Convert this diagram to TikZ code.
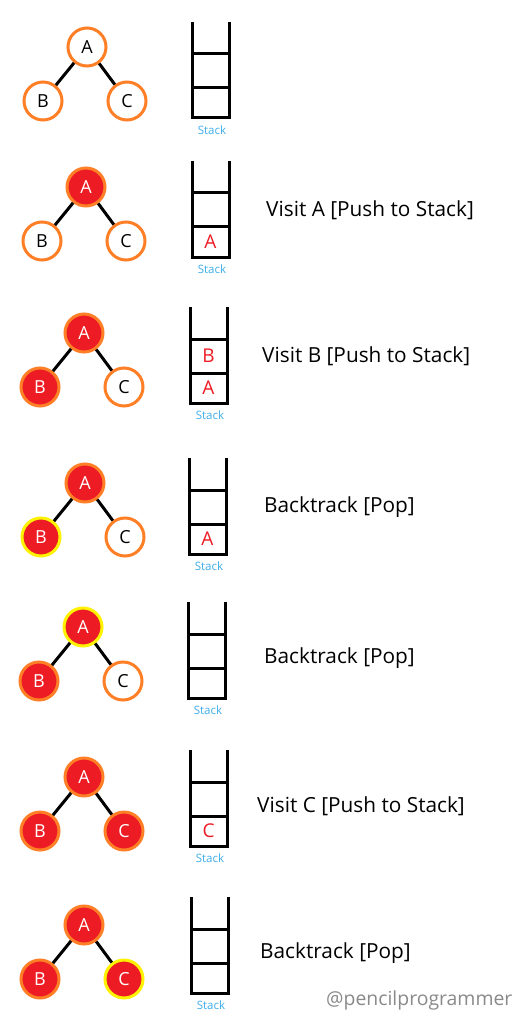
\documentclass[tikz,border=0pt]{standalone}
\usepackage{fontspec}
\setmainfont{Open Sans}
\definecolor{orng}{HTML}{FF7F27}
\definecolor{rd}{HTML}{ED1C24}
\definecolor{ylw}{HTML}{FFF200}
\definecolor{lblue}{HTML}{3FAEEA}
\definecolor{wgray}{HTML}{8A8A8A}
\tikzset{
  nd/.style={circle, minimum size=38pt, inner sep=0pt, line width=3pt, font=\fontsize{18}{18}\selectfont},
  unv/.style={nd, draw=orng, fill=white, text=black},
  vis/.style={nd, draw=orng, fill=rd, text=white},
  cur/.style={nd, draw=ylw, fill=rd, text=white},
  edge/.style={line width=3pt, black},
  stk/.style={line width=3pt, black, line join=miter},
  slot/.style={text=rd, inner sep=0pt, font=\fontsize{19}{19}\selectfont},
  stacklbl/.style={text=lblue, inner sep=0pt, font=\fontsize{11.5}{11.5}\selectfont},
  caption/.style={anchor=west, inner sep=0pt, text=black, font=\fontsize{20.8}{20.8}\selectfont},
  wmark/.style={anchor=west, inner sep=0pt, text=wgray, font=\fontsize{19.4}{19.4}\selectfont}
}
\newcommand\dfstree[6]{%
  \node[#4] (#1A) at (#2,#3) {A};
  \node[#5] (#1B) at (#2-44,#3+54) {B};
  \node[#6] (#1C) at (#2+40,#3+54) {C};
  \draw[edge] (#1A) -- (#1B);
  \draw[edge] (#1A) -- (#1C);
}
\newcommand\dfsstack[5]{%
  \coordinate (#1tl) at (#2,#3);
  \draw[stk] (#2,#3) -- (#2,#3+96) -- (#2+37,#3+96) -- (#2+37,#3);
  \draw[stk] (#2,#3+32) -- (#2+37,#3+32);
  \draw[stk] (#2,#3+66) -- (#2+37,#3+66);
  \node[slot] (#1s1) at (#2+18.5,#3+81) {#4};
  \node[slot] (#1s2) at (#2+18.5,#3+49) {#5};
  \node[stacklbl] (#1lbl) at (#2+20,#3+108) {Stack};
}
\begin{document}
\begin{tikzpicture}[x=1pt,y=-1pt]
\useasboundingbox (0,0) rectangle (519,1024);
\fill[white] (0,0) rectangle (519,1024);
% panel 1
\dfstree{p1}{87}{47}{unv}{unv}{unv}
\dfsstack{q1}{192}{22}{}{}
% panel 2
\dfstree{p2}{86}{187}{vis}{unv}{unv}
\dfsstack{q2}{192}{161}{A}{}
\node[caption] (t2) at (266,210) {Visit A [Push to Stack]};
% panel 3
\dfstree{p3}{84}{333}{vis}{vis}{unv}
\dfsstack{q3}{190}{307}{A}{B}
\node[caption] (t3) at (262,356) {Visit B [Push to Stack]};
% panel 4
\dfstree{p4}{85}{483}{vis}{cur}{unv}
\dfsstack{q4}{189}{458}{A}{}
\node[caption] (t4) at (264,507) {Backtrack [Pop]};
% panel 5
\dfstree{p5}{83}{627}{cur}{vis}{unv}
\dfsstack{q5}{188}{602}{}{}
\node[caption] (t5) at (264,658) {Backtrack [Pop]};
% panel 6
\dfstree{p6}{84}{777}{vis}{vis}{vis}
\dfsstack{q6}{190}{750}{C}{}
\node[caption] (t6) at (257,806) {Visit C [Push to Stack]};
% panel 7
\dfstree{p7}{84}{925}{vis}{vis}{cur}
\dfsstack{q7}{191}{897}{}{}
\node[caption] (t7) at (260,953) {Backtrack [Pop]};
% watermark
\node[wmark] (wm) at (326,1000) {@pencilprogrammer};
\end{tikzpicture}
\end{document}
